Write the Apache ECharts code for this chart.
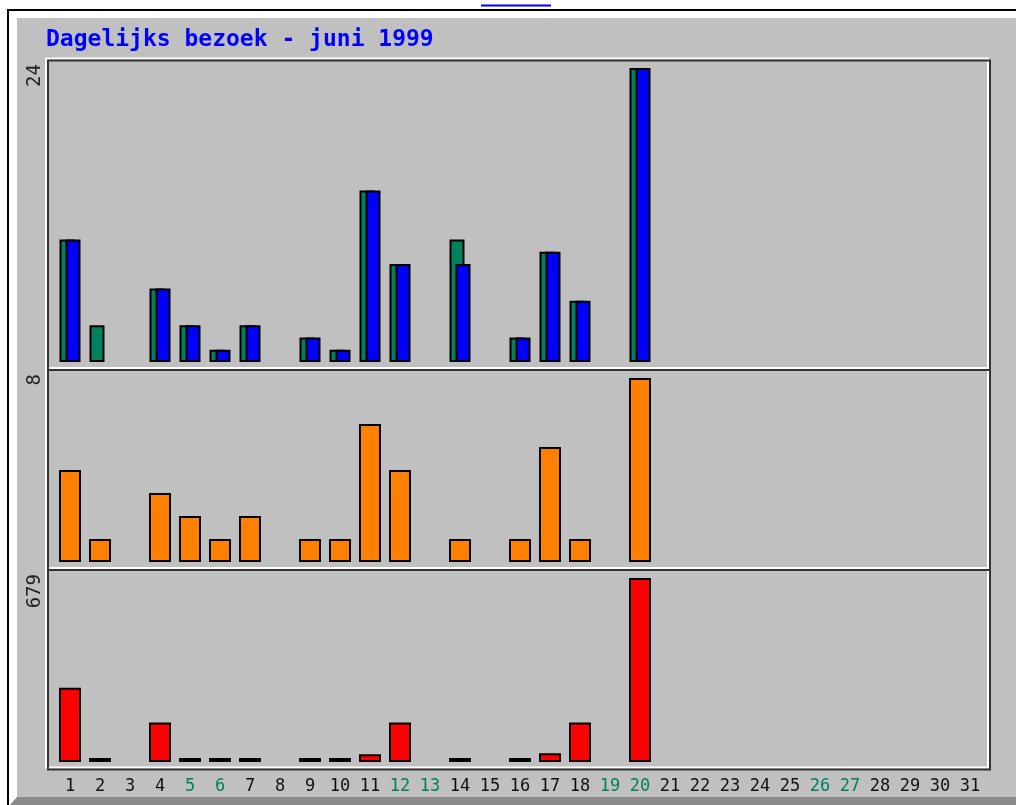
<!DOCTYPE html>
<html>
<head>
<meta charset="utf-8">
<script src="https://cdn.jsdelivr.net/npm/echarts@6/dist/echarts.min.js"></script>
<style>
html,body{margin:0;padding:0;background:#ffffff;}
#c{width:1016px;height:805px;}
</style>
</head>
<body>
<div id="c"></div>
<script>
// ---- data ----
const titleText = 'Dagelijks bezoek - juni 1999';
const days = ['1','2','3','4','5','6','7','8','9','10','11','12','13','14','15','16',
              '17','18','19','20','21','22','23','24','25','26','27','28','29','30','31'];
const weekendDays = ['5','6','12','13','19','20','26','27'];
const hits   = [10,3,0,6,3,1,3,0,2,1,14,8,0,10,0,2,9,5,0,24,0,0,0,0,0,0,0,0,0,0,0];
const files  = [10,0,0,6,3,1,3,0,2,1,14,8,0,8,0,2,9,5,0,24,0,0,0,0,0,0,0,0,0,0,0];
const sites  = [4,1,0,3,2,1,2,0,1,1,6,4,0,1,0,1,5,1,0,8,0,0,0,0,0,0,0,0,0,0,0];
const kbytes = [274,15,0,146,15,15,15,0,15,15,29,146,0,15,0,15,32,146,0,679,0,0,0,0,0,0,0,0,0,0,0];
const panelMax = [24, 8, 679];

// ---- styling ----
const FONT = "'DejaVu Sans Mono', monospace";
const nz = a => a.map(v => (v === 0 ? null : v));
const grids = [
  {left:55, width:930, top:68,  height:294},
  {left:55, width:930, top:378, height:184},
  {left:55, width:930, top:578, height:184}
];
const panelY = [60.5, 370, 570, 769.5];
const frameX1 = 48, frameX2 = 990;

const xAxes = grids.map((g, i) => ({
  type:'category', gridIndex:i, data:days, boundaryGap:true,
  axisLine:{show:false}, axisTick:{show:false}, splitLine:{show:false},
  axisLabel:{
    show: i === 2, interval:0, margin:16,
    fontFamily:FONT, fontSize:17,
    color: v => (weekendDays.includes(v) ? '#00805c' : '#111111')
  }
}));
const yAxes = panelMax.map((m, i) => ({
  type:'value', gridIndex:i, min:0, max:m, interval:m,
  splitLine:{show:false}, axisLine:{show:false}, axisTick:{show:false},
  axisLabel:{
    showMinLabel:false, showMaxLabel:true, rotate:90, align:'right',
    margin:10, padding:[0,-4,0,0],
    fontFamily:FONT, fontSize:19, color:'#222222'
  }
}));

const graphics = [
  {type:'rect', z:-10, silent:true, shape:{x:7, y:9, width:1200, height:1000}, style:{fill:'#000000'}},
  {type:'rect', z:-10, silent:true, shape:{x:9, y:11, width:1200, height:1000}, style:{fill:'#ffffff'}},
  {type:'polygon', z:-10, silent:true, shape:{points:[[9,806],[17,797],[1016,797],[1016,806]]}, style:{fill:'#8a8a8a'}},
  {type:'rect', z:-10, silent:true, shape:{x:17, y:18, width:1100, height:779}, style:{fill:'#c0c0c0'}},
  {type:'line', z:-10, silent:true, shape:{x1:481, y1:5.5, x2:551, y2:5.5}, style:{stroke:'#0000ee', lineWidth:2}}
];
for (let i = 0; i < 3; i++) {
  graphics.push({type:'rect', z:1, silent:true,
    shape:{x:frameX1-2, y:panelY[i]-2, width:frameX2-frameX1, height:panelY[i+1]-panelY[i]},
    style:{fill:null, stroke:'#ffffff', lineWidth:2}});
}
for (let i = 0; i < 3; i++) {
  graphics.push({type:'rect', z:1, silent:true,
    shape:{x:frameX1, y:panelY[i], width:frameX2-frameX1, height:panelY[i+1]-panelY[i]},
    style:{fill:null, stroke:'#333333', lineWidth:2}});
}

const barBorder = {borderColor:'#000000', borderWidth:2};
const option = {
  animation:false,
  backgroundColor:'#ffffff',
  title:{
    text:titleText, left:46, top:29, padding:0,
    textStyle:{fontFamily:FONT, fontWeight:'bold', fontSize:23, color:'#0000ff'}
  },
  grid:grids,
  xAxis:xAxes,
  yAxis:yAxes,
  graphic:{elements:graphics},
  series:[
    {type:'bar', name:'Hits', xAxisIndex:0, yAxisIndex:0, data:nz(hits),
     barWidth:15, barGap:'-60%', itemStyle:Object.assign({color:'#00805c'}, barBorder)},
    {type:'bar', name:'Files', xAxisIndex:0, yAxisIndex:0, data:nz(files),
     barWidth:15, barGap:'-60%', itemStyle:Object.assign({color:'#0000ff'}, barBorder)},
    {type:'bar', name:'Sites', xAxisIndex:1, yAxisIndex:1, data:nz(sites),
     barWidth:22, itemStyle:Object.assign({color:'#ff8000'}, barBorder)},
    {type:'bar', name:'KBytes', xAxisIndex:2, yAxisIndex:2, data:nz(kbytes),
     barWidth:22, itemStyle:Object.assign({color:'#ff0000'}, barBorder)}
  ]
};
const chart = echarts.init(document.getElementById('c'), null, {renderer:'canvas'});
chart.setOption(option);
</script>
</body>
</html>
